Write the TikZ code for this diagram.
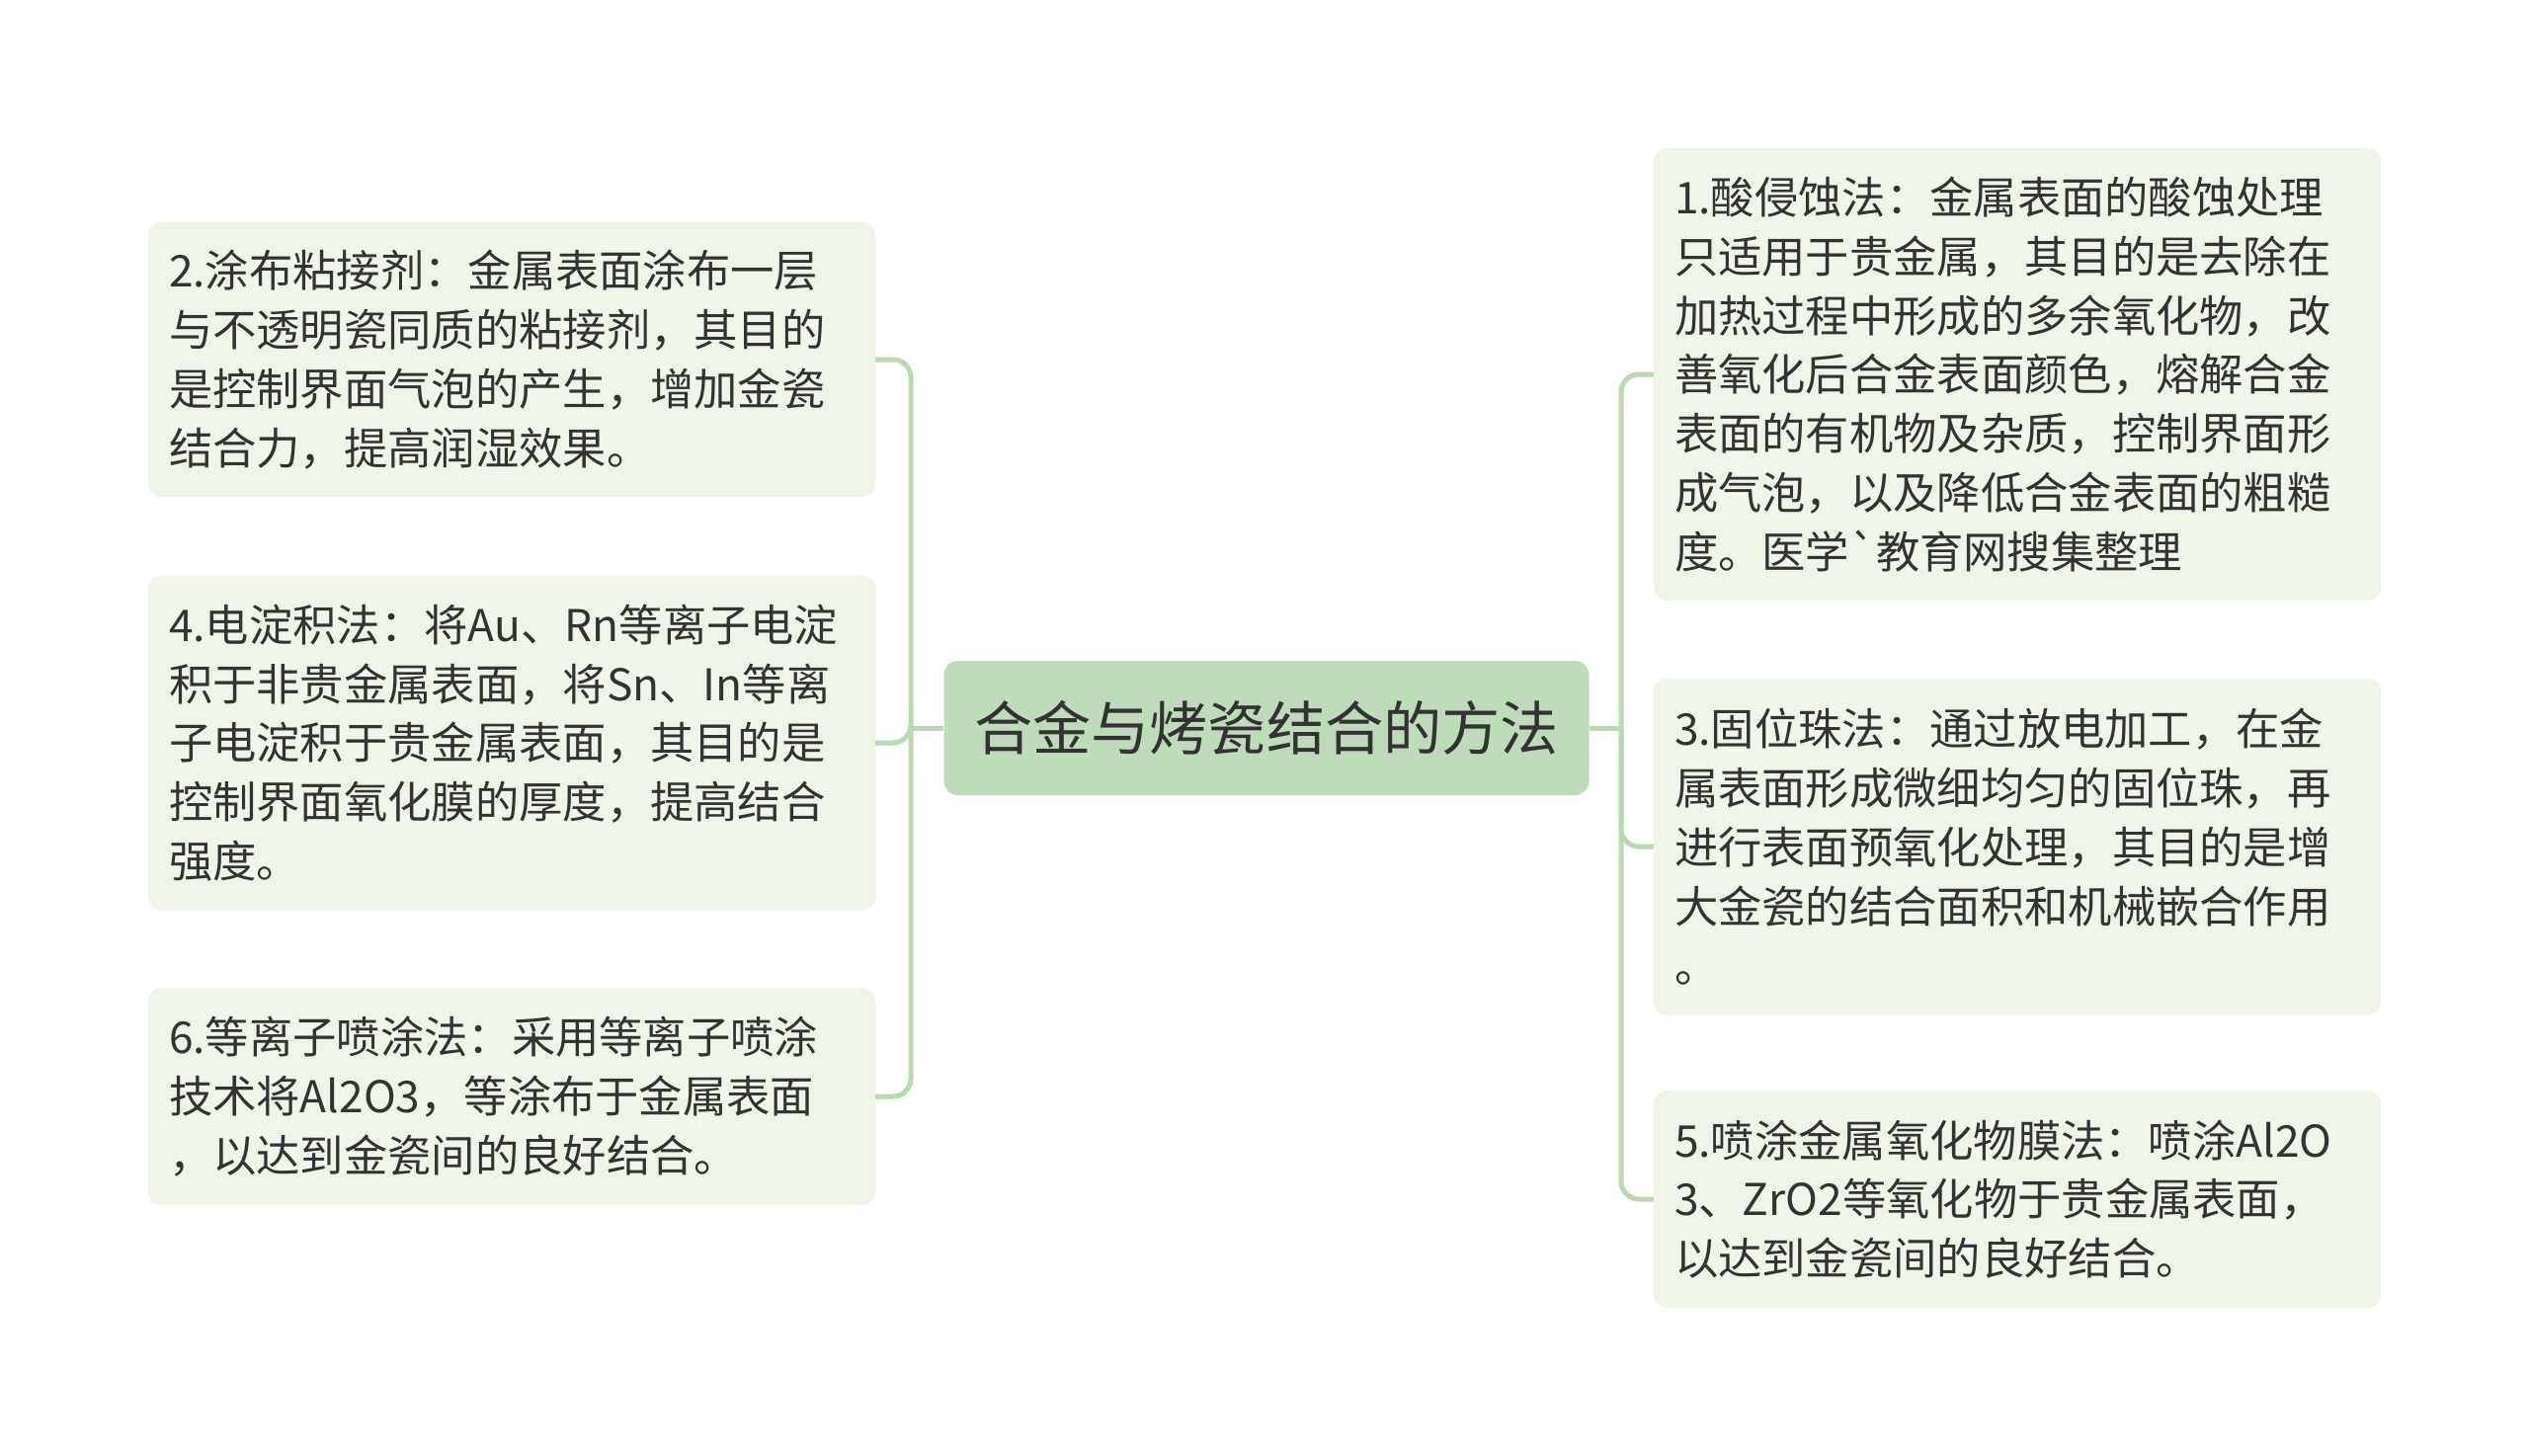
\documentclass[tikz,border=0pt]{standalone}
\usepackage{fontspec}
\setmainfont{Noto Sans CJK SC}
\newfontfamily\plainfont{Noto Sans CJK SC}
\definecolor{rootfill}{HTML}{C0DABC}
\definecolor{boxfill}{HTML}{F0F5E9}
\definecolor{linec}{HTML}{BBD7B6}
\definecolor{textc}{HTML}{333333}
\begin{document}
\begin{tikzpicture}[x=1pt, y=-1pt,
  root/.style = {fill=rootfill, rounded corners=14pt, text=textc, minimum width=653pt, minimum height=136pt, font=\fontsize{59.2}{70}\selectfont},
  topic/.style = {fill=boxfill, rounded corners=13pt, text=textc, align=left, text width=694pt, inner xsep=21pt, inner ysep=0pt, font=\fontsize{44.3}{59.8}\selectfont},
  conn/.style = {draw=linec, line width=5pt, rounded corners=18pt}]

    \useasboundingbox (0,0) rectangle (2560,1473);

    \node[root] (c) at (1282,737) {合金与烤瓷结合的方法};

    \node[topic, minimum height=278pt] (l1) at (518,364) {2.涂布粘接剂：金属表面涂布一层\\与不透明瓷同质的粘接剂，其目的\\是控制界面气泡的产生，增加金瓷\\结合力，提高润湿效果。};
    \node[topic, minimum height=339pt] (l2) at (518,752) {4.电淀积法：将Au、Rn等离子电淀\\积于非贵金属表面，将Sn、In等离\\子电淀积于贵金属表面，其目的是\\控制界面氧化膜的厚度，提高结合\\强度。};
    \node[topic, minimum height=220pt] (l3) at (518,1110) {6.等离子喷涂法：采用等离子喷涂\\技术将Al2O3，等涂布于金属表面\\，以达到金瓷间的良好结合。};

    \node[topic, minimum height=458pt] (r1) at (2042,379) {1.酸侵蚀法：金属表面的酸蚀处理\\只适用于贵金属，其目的是去除在\\加热过程中形成的多余氧化物，改\\善氧化后合金表面颜色，熔解合金\\表面的有机物及杂质，控制界面形\\成气泡，以及降低合金表面的粗糙\\度。医学{\plainfont\symbol{96}}教育网搜集整理};
    \node[topic, minimum height=341pt] (r2) at (2042,857) {3.固位珠法：通过放电加工，在金\\属表面形成微细均匀的固位珠，再\\进行表面预氧化处理，其目的是增\\大金瓷的结合面积和机械嵌合作用\\。};
    \node[topic, minimum height=220pt] (r3) at (2042,1214) {5.喷涂金属氧化物膜法：喷涂Al2O\\3、ZrO2等氧化物于贵金属表面，\\以达到金瓷间的良好结合。};

    \coordinate (jl) at (922,737);
    \coordinate (jr) at (1641,737);

    \draw[conn] (c.west) -- (jl);
    \draw[conn] (jl) |- (l1.east);
    \draw[conn] (jl) |- (l2.east);
    \draw[conn] (jl) |- (l3.east);
    \draw[conn] (c.east) -- (jr);
    \draw[conn] (jr) |- (r1.west);
    \draw[conn] (jr) |- (r2.west);
    \draw[conn] (jr) |- (r3.west);
\end{tikzpicture}
\end{document}
